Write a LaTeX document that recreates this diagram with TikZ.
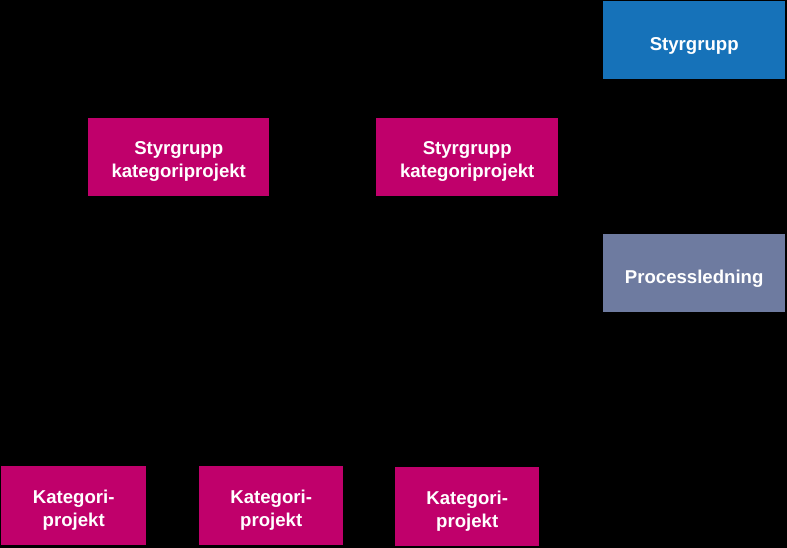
\documentclass[tikz,border=0pt]{standalone}
\usepackage{fontspec}
\setmainfont{Liberation Sans}
\definecolor{magbox}{HTML}{C0006B}
\definecolor{bluebox}{HTML}{1672B9}
\definecolor{greybox}{HTML}{6E7BA0}
\begin{document}
\begin{tikzpicture}[x=1pt,y=-1pt,
  box/.style={draw=none, inner sep=0pt, anchor=north west},
  txt/.style={text=white, font=\fontsize{18.6}{23}\selectfont\bfseries, align=center, inner sep=0pt, text depth=0pt},
  magb/.style={box, fill=magbox},
  blueb/.style={box, fill=bluebox},
  greyb/.style={box, fill=greybox}]
\fill[black] (0,0) rectangle (787,548);
\useasboundingbox (0,0) rectangle (787,548);
\node[blueb, minimum width=182pt, minimum height=78pt] (styr) at (603,1) {};
\node[magb, minimum width=181pt, minimum height=78pt] (sk1) at (88,118) {};
\node[magb, minimum width=182pt, minimum height=78pt] (sk2) at (376,118) {};
\node[greyb, minimum width=182pt, minimum height=78pt] (proc) at (603,234) {};
\node[magb, minimum width=145pt, minimum height=79pt] (kp1) at (1,466) {};
\node[magb, minimum width=144pt, minimum height=79pt] (kp2) at (199,466) {};
\node[magb, minimum width=144pt, minimum height=79pt] (kp3) at (395,467) {};
\node[txt] (styrT) at ([yshift=-3.5pt]styr.center) {Styrgrupp};
\node[txt] (sk1T) at ([yshift=-2.5pt]sk1.center) {Styrgrupp\\kategoriprojekt};
\node[txt] (sk2T) at ([yshift=-2.5pt]sk2.center) {Styrgrupp\\kategoriprojekt};
\node[txt] (procT) at ([yshift=-3.5pt]proc.center) {Processledning};
\node[txt] (kp1T) at ([yshift=-3pt]kp1.center) {Kategori-\\projekt};
\node[txt] (kp2T) at ([yshift=-3pt]kp2.center) {Kategori-\\projekt};
\node[txt] (kp3T) at ([yshift=-3pt]kp3.center) {Kategori-\\projekt};
\end{tikzpicture}
\end{document}
